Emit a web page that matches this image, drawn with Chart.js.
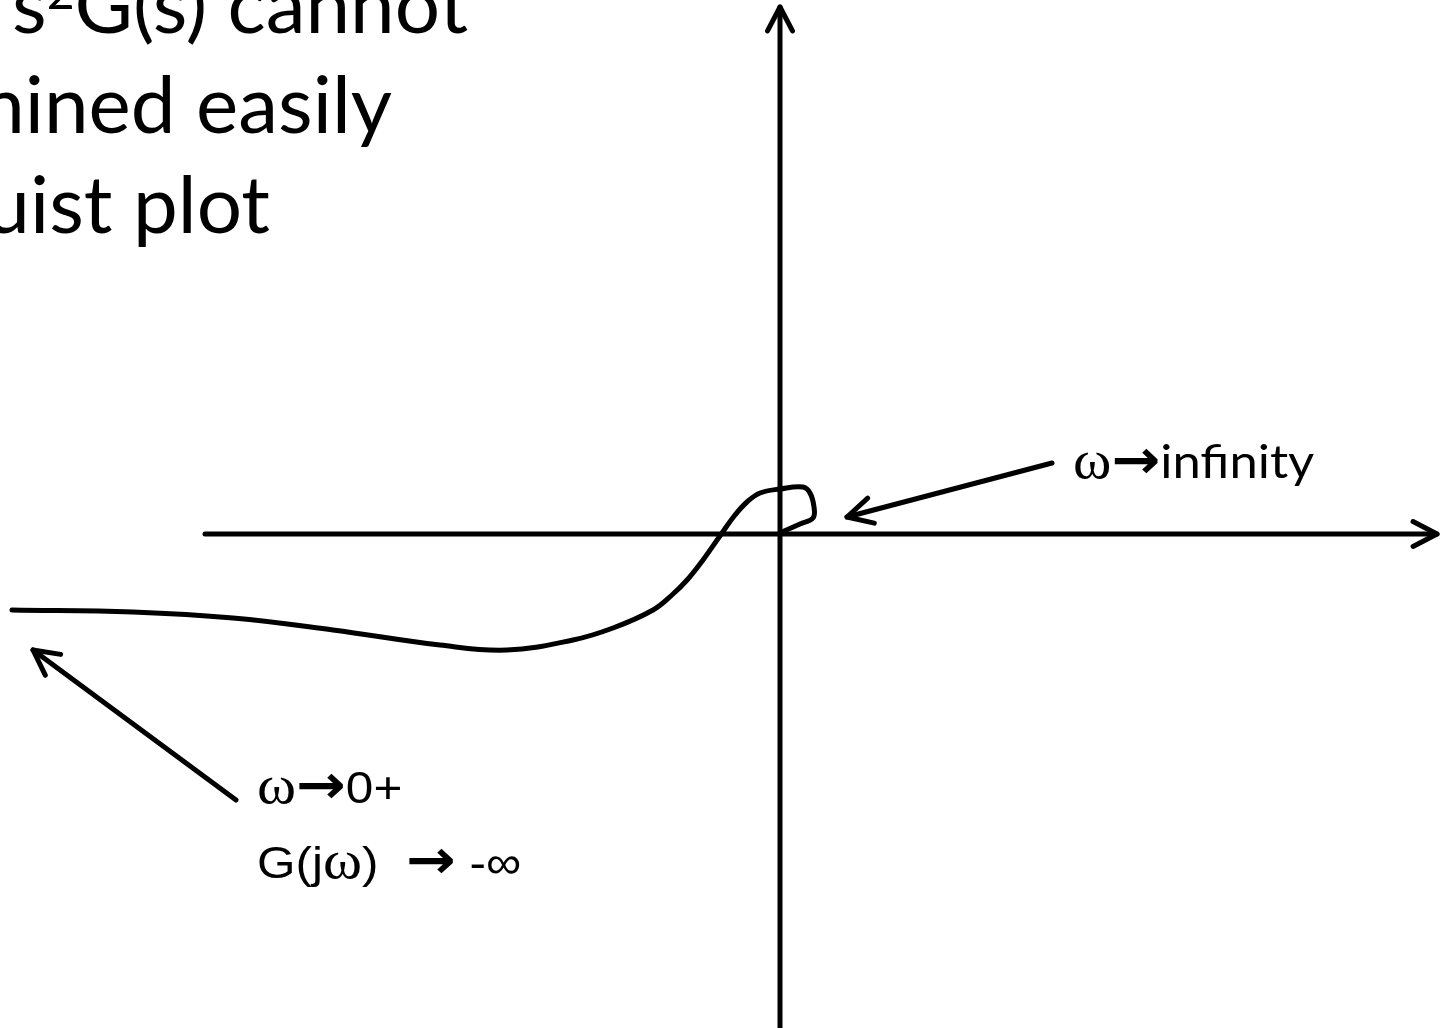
<!DOCTYPE html>
<html>
<head>
<meta charset="utf-8">
<script src="https://cdn.jsdelivr.net/npm/chart.js@4"></script>
<style>
  html, body { margin: 0; padding: 0; background: #fff; overflow: hidden; }
  canvas { display: block; }
</style>
</head>
<body>
<canvas id="nyquist" width="1445" height="1028"></canvas>
<script>
var reValues = [-7.68, -6.47, -5.47, -4.47, -3.40, -2.73, -2.07, -1.67, -1.27, -1.07, -0.92, -0.77, -0.58, -0.45, -0.33, -0.20, 0.00, 0.23, 0.30, 0.34, 0.33, 0.20, 0.02];
var imValues = [-0.76, -0.78, -0.84, -0.96, -1.11, -1.16, -1.06, -0.94, -0.76, -0.60, -0.45, -0.26, 0.01, 0.19, 0.32, 0.41, 0.45, 0.47, 0.41, 0.27, 0.16, 0.10, 0.02];

var titleLines = ['s', '2', 'G(s) cannot', 'determined easily', 'Nyquist plot'];
var highFreqLabel = ['\u03C9', '\u2192', 'infinity'];
var lowFreqLabel = ['\u03C9', '\u2192', '0+'];
var limitLabel = ['G(j', '\u03C9', ')  ', '\u2192', ' -\u221E'];

var points = reValues.map(function (re, i) { return { x: re, y: imValues[i] }; });

function arrowHead(ctx, x1, y1, x2, y2, len) {
    var a = Math.atan2(y2 - y1, x2 - x1);
    ctx.beginPath();
    ctx.moveTo(x2 - len * Math.cos(a - 0.48), y2 - len * Math.sin(a - 0.48));
    ctx.lineTo(x2, y2);
    ctx.lineTo(x2 - len * Math.cos(a + 0.48), y2 - len * Math.sin(a + 0.48));
    ctx.stroke();
}

function arrow(ctx, x1, y1, x2, y2, len) {
    ctx.beginPath();
    ctx.moveTo(x1, y1);
    ctx.lineTo(x2, y2);
    ctx.stroke();
    arrowHead(ctx, x1, y1, x2, y2, len);
}

// draws pieces of text one after another, each with its own font
function textRun(ctx, x, y, parts, fonts, lifts, stretch) {
    ctx.save();
    ctx.translate(x, y);
    ctx.scale(stretch || 1, 1);
    var cx = 0;
    parts.forEach(function (p, i) {
        ctx.font = fonts[i];
        ctx.fillText(p, cx, -(lifts ? lifts[i] : 0));
        cx += ctx.measureText(p).width;
    });
    ctx.restore();
}

var sketchPlugin = {
    id: 'sketch',
    afterDatasetsDraw: function (chart) {
        var ctx = chart.ctx;
        var sx = chart.scales.x, sy = chart.scales.y;
        var ox = sx.getPixelForValue(0), oy = sy.getPixelForValue(0);
        ctx.save();
        ctx.strokeStyle = '#000';
        ctx.fillStyle = '#000';
        ctx.lineWidth = 5;
        ctx.lineCap = 'round';
        ctx.lineJoin = 'round';

        // real and imaginary axes
        arrow(ctx, sx.getPixelForValue(-5.75), oy, sx.getPixelForValue(6.57), oy, 27);
        arrow(ctx, ox, sy.getPixelForValue(-5.0), ox, sy.getPixelForValue(5.27), 27);

        // pointer arrows
        arrow(ctx, 1052, 463, 847, 517, 28);
        arrow(ctx, 236, 800, 33, 650, 28);

        // labels
        ctx.textBaseline = 'alphabetic';
        ctx.textAlign = 'left';
        var serif = '54px "Liberation Serif"';
        var sans = '45px "Liberation Sans"';
        var arr = 'bold 54px "DejaVu Sans"';
        textRun(ctx, 1073, 478, highFreqLabel, [serif, arr, '47px Lato'], null, 1.08);
        textRun(ctx, 257, 803, lowFreqLabel, [serif, arr, sans], null, 1.1);
        textRun(ctx, 257, 878, limitLabel, [sans, serif, sans, arr, sans], null, 1.1);

        // slide text, cut at the edges
        textRun(ctx, 12, 33, titleLines.slice(0, 3), ['80px Lato', '48px Lato', '80px Lato'], [0, 24, 0]);
        ctx.textAlign = 'right';
        ctx.font = '80px Lato';
        ctx.fillText(titleLines[3], 392, 133);
        ctx.fillText(titleLines[4], 270, 233);
        ctx.restore();
    }
};

var ctx = document.getElementById('nyquist').getContext('2d');
var myChart = new Chart(ctx, {
    type: 'scatter',
    data: {
        datasets: [{
            label: 'G(jw)',
            data: points,
            showLine: true,
            borderColor: '#000',
            borderWidth: 5,
            borderCapStyle: 'round',
            pointRadius: 0,
            tension: 0.4
        }]
    },
    options: {
        responsive: false,
        animation: false,
        layout: { padding: 0 },
        plugins: { legend: { display: false }, tooltip: { enabled: false } },
        scales: {
            x: { type: 'linear', display: false, min: -7.8, max: 6.65 },
            y: { type: 'linear', display: false, min: -4.94, max: 5.34 }
        }
    },
    plugins: [sketchPlugin]
});
</script>
</body>
</html>
